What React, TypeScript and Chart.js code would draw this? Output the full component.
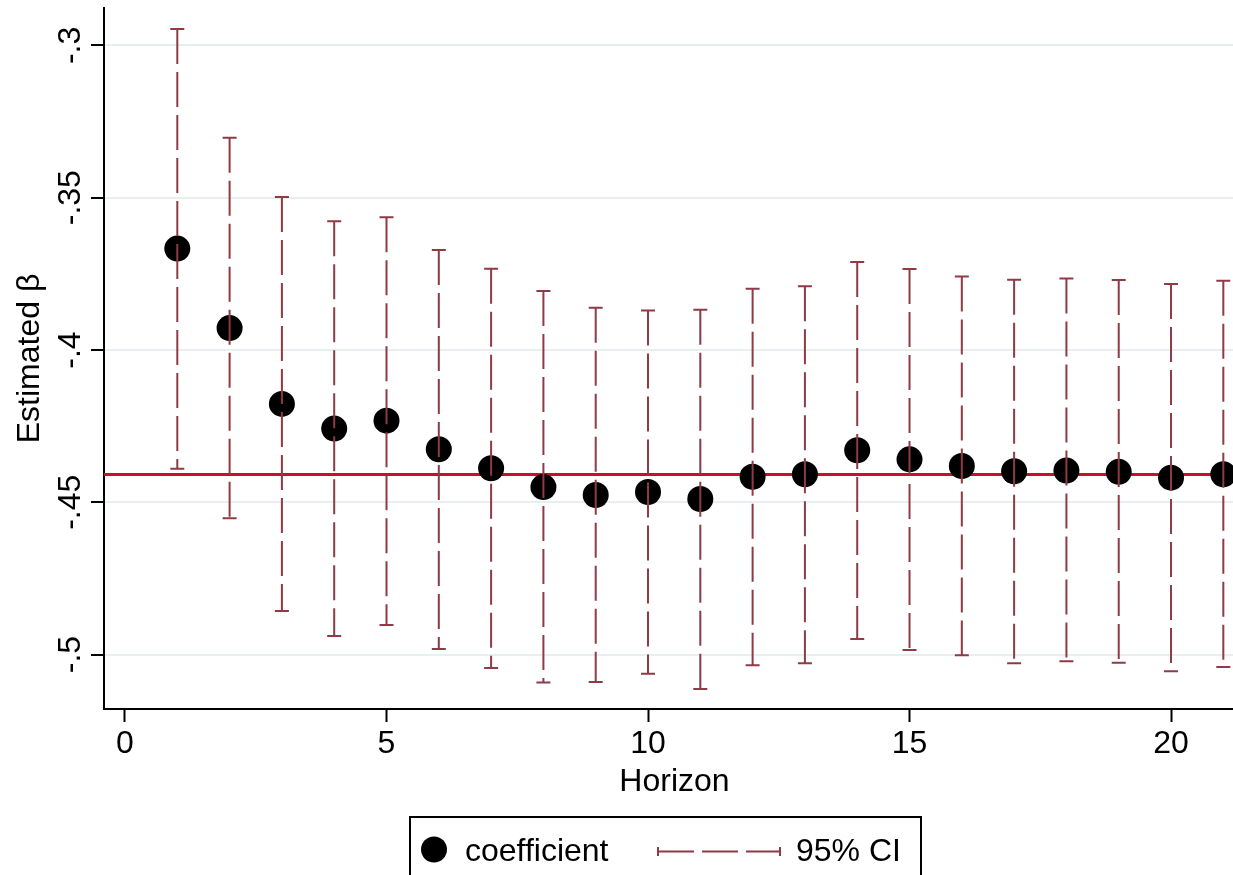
import React, { useEffect, useRef } from 'react';
import { Chart, registerables } from 'chart.js';

Chart.register(...registerables);

const HORIZON = [1, 2, 3, 4, 5, 6, 7, 8, 9, 10, 11, 12, 13, 14, 15, 16, 17, 18, 19, 20, 21];
const COEFFICIENT = [
  -0.3667, -0.3928, -0.4177, -0.4258, -0.4232, -0.4326, -0.4388, -0.445, -0.4476, -0.4466, -0.4489,
  -0.4416, -0.4408, -0.4329, -0.4359, -0.4381, -0.4398, -0.4396, -0.44, -0.4419, -0.4408,
];
const CI_UPPER = [
  -0.2946, -0.3303, -0.3498, -0.3577, -0.3564, -0.3672, -0.3733, -0.3806, -0.3861, -0.387, -0.3868,
  -0.3799, -0.3791, -0.3711, -0.3734, -0.3759, -0.3769, -0.3765, -0.377, -0.3783, -0.3773,
];
const CI_LOWER = [
  -0.439, -0.4552, -0.4857, -0.4939, -0.4903, -0.4982, -0.5044, -0.5092, -0.509, -0.5063, -0.5113,
  -0.5035, -0.5028, -0.4949, -0.4985, -0.5002, -0.5028, -0.5022, -0.5027, -0.5055, -0.5041,
];
const REFERENCE_LINE = -0.4409;
const X_TICKS = [0, 5, 10, 15, 20];
const Y_TICKS = [-0.5, -0.45, -0.4, -0.35, -0.3];
const Y_TICK_LABELS = ['-.5', '-.45', '-.4', '-.35', '-.3'];
const X_MIN = -0.4015;
const X_MAX = 21.185;
const Y_MIN = -0.51786;
const Y_MAX = -0.28772;
const X_TITLE = 'Horizon';
const Y_TITLE = 'Estimated β';
const LEGEND_POINT = 'coefficient';
const LEGEND_CI = '95% CI';

const FONT_FAMILY = '"Liberation Sans", Arial, Helvetica, sans-serif';
const FONT_SIZE = 32;
const CI_COLOR = '#8f3a44';
const REF_COLOR = '#c8102e';
const GRID_COLOR = '#e7eff1';

const overlayPlugin = {
  id: 'overlay',
  afterDatasetsDraw(chart: any) {
    const { ctx, scales } = chart;
    const xs = scales.x;
    const ys = scales.y;
    ctx.save();
    ctx.strokeStyle = CI_COLOR;
    ctx.lineWidth = 2;
    HORIZON.forEach((h, i) => {
      const px = xs.getPixelForValue(h);
      const top = ys.getPixelForValue(CI_UPPER[i]);
      const bot = ys.getPixelForValue(CI_LOWER[i]);
      ctx.setLineDash([35, 8]);
      ctx.beginPath();
      ctx.moveTo(px, top);
      ctx.lineTo(px, bot);
      ctx.stroke();
      ctx.setLineDash([]);
      ctx.beginPath();
      ctx.moveTo(px - 7, top);
      ctx.lineTo(px + 7, top);
      ctx.moveTo(px - 7, bot);
      ctx.lineTo(px + 7, bot);
      ctx.stroke();
    });
    ctx.restore();
  },
  afterDraw(chart: any) {
    const { ctx, scales } = chart;
    const ys = scales.y;
    ctx.save();
    ctx.fillStyle = '#000';
    ctx.font = `${FONT_SIZE}px ${FONT_FAMILY}`;
    ctx.textAlign = 'center';
    ctx.textBaseline = 'alphabetic';
    // rotated y tick labels
    Y_TICKS.forEach((v, i) => {
      const py = ys.getPixelForValue(v);
      ctx.save();
      ctx.translate(80, py);
      ctx.rotate(-Math.PI / 2);
      ctx.fillText(Y_TICK_LABELS[i], 0, 0);
      ctx.restore();
    });
    // x axis title
    ctx.fillText(X_TITLE, 674.5, 791);
    // legend
    ctx.strokeStyle = '#000';
    ctx.lineWidth = 2;
    ctx.strokeRect(410, 817, 511, 80);
    ctx.beginPath();
    ctx.arc(434, 849.5, 13, 0, Math.PI * 2);
    ctx.fill();
    ctx.textAlign = 'left';
    ctx.fillText(LEGEND_POINT, 465, 861);
    ctx.strokeStyle = CI_COLOR;
    ctx.lineWidth = 2;
    ctx.setLineDash([36, 8]);
    ctx.beginPath();
    ctx.moveTo(658, 851.5);
    ctx.lineTo(780, 851.5);
    ctx.stroke();
    ctx.setLineDash([]);
    ctx.beginPath();
    ctx.moveTo(658, 847);
    ctx.lineTo(658, 856);
    ctx.moveTo(780, 847);
    ctx.lineTo(780, 856);
    ctx.stroke();
    ctx.fillStyle = '#000';
    ctx.fillText(LEGEND_CI, 796, 861);
    ctx.restore();
  },
};

export default function App() {
  const ref = useRef<HTMLCanvasElement | null>(null);

  useEffect(() => {
    document.body.style.margin = '0';
    const canvas = ref.current;
    if (!canvas) return;
    const chart = new Chart(canvas, {
      type: 'scatter',
      data: {
        datasets: [
          {
            label: LEGEND_POINT,
            data: HORIZON.map((h, i) => ({ x: h, y: COEFFICIENT[i] })),
            backgroundColor: '#000',
            borderWidth: 0,
            pointRadius: 13,
            pointHoverRadius: 13,
          },
          {
            type: 'line',
            label: 'reference',
            data: [
              { x: X_MIN, y: REFERENCE_LINE },
              { x: X_MAX, y: REFERENCE_LINE },
            ],
            borderColor: REF_COLOR,
            borderWidth: 3,
            pointRadius: 0,
            showLine: true,
            fill: false,
          } as any,
        ],
      },
      options: {
        animation: false,
        responsive: false,
        devicePixelRatio: 1,
        events: [],
        layout: { autoPadding: false, padding: { top: 8, left: 0, right: 0, bottom: 0 } },
        plugins: {
          legend: { display: false },
          tooltip: { enabled: false },
          title: { display: false },
        },
        scales: {
          x: {
            type: 'linear',
            min: X_MIN,
            max: X_MAX,
            afterBuildTicks: (s: any) => {
              s.ticks = X_TICKS.map((v) => ({ value: v }));
            },
            afterFit: (s: any) => {
              s.height = 166;
              s.paddingLeft = 0;
              s.paddingRight = 0;
              s.paddingTop = 0;
              s.paddingBottom = 0;
            },
            grid: {
              drawOnChartArea: false,
              drawTicks: true,
              tickLength: 13,
              tickWidth: 2,
              tickColor: '#000',
            },
            border: { display: true, color: '#000', width: 2 },
            ticks: {
              color: '#000',
              font: { family: FONT_FAMILY, size: FONT_SIZE },
              padding: 3,
              maxRotation: 0,
              minRotation: 0,
              callback: (v: any) => String(v),
            },
            title: { display: false },
          },
          y: {
            type: 'linear',
            min: Y_MIN,
            max: Y_MAX,
            afterBuildTicks: (s: any) => {
              s.ticks = Y_TICKS.map((v) => ({ value: v }));
            },
            afterFit: (s: any) => {
              s.width = 104;
              s.paddingLeft = 0;
              s.paddingRight = 0;
              s.paddingTop = 0;
              s.paddingBottom = 0;
            },
            grid: {
              drawOnChartArea: true,
              color: GRID_COLOR,
              lineWidth: 2,
              drawTicks: true,
              tickLength: 13,
              tickWidth: 2,
              tickColor: '#000',
            },
            border: { display: true, color: '#000', width: 2 },
            ticks: { display: false },
            title: {
              display: true,
              text: Y_TITLE,
              color: '#000',
              font: { family: FONT_FAMILY, size: FONT_SIZE },
              padding: { top: 11, bottom: 0 },
            },
          },
        },
      },
      plugins: [overlayPlugin],
    });
    return () => chart.destroy();
  }, []);

  return (
    <div style={{ position: 'fixed', left: 0, top: 0, width: 1233, height: 875, background: '#fff' }}>
      <canvas ref={ref} width={1233} height={875} style={{ display: 'block', width: 1233, height: 875 }} />
    </div>
  );
}
